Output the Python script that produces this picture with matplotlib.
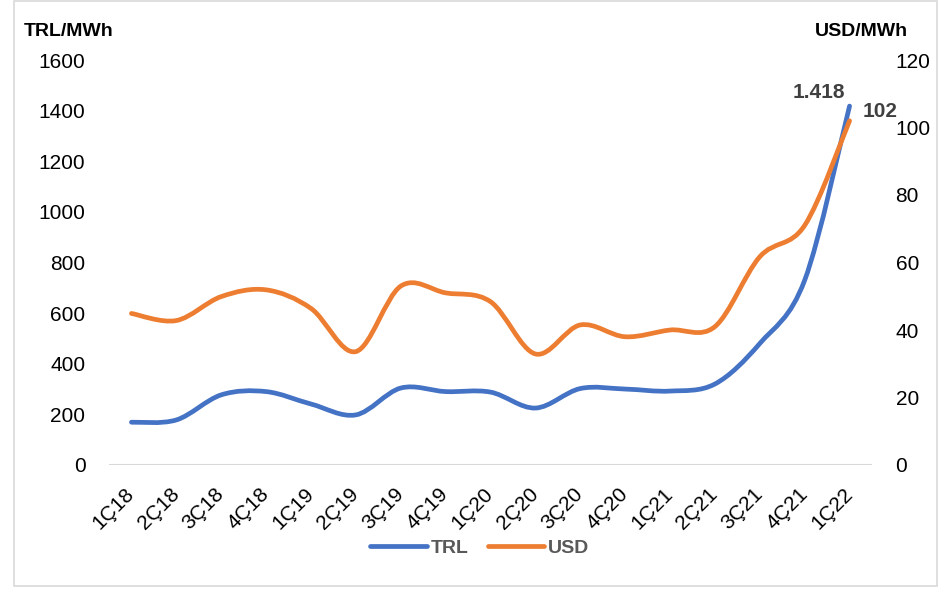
import matplotlib
matplotlib.use("Agg")
import matplotlib.pyplot as plt
from matplotlib.path import Path
from matplotlib.patches import PathPatch, Rectangle
from matplotlib.lines import Line2D

quarters = ["1Ç18", "2Ç18", "3Ç18", "4Ç18", "1Ç19", "2Ç19", "3Ç19", "4Ç19",
            "1Ç20", "2Ç20", "3Ç20", "4Ç20", "1Ç21", "2Ç21", "3Ç21", "4Ç21", "1Ç22"]
trl = [169, 178, 277, 290, 241, 198, 304, 290, 288, 225, 302, 300, 292, 320, 480, 730, 1418]
usd = [44.9, 42.8, 49.9, 51.9, 46.4, 33.6, 53.0, 51.0, 48.4, 32.9, 41.5, 38.0, 40.0, 41.0, 61.7, 71.0, 102]

left_ticks = [0, 200, 400, 600, 800, 1000, 1200, 1400, 1600]
right_ticks = [0, 20, 40, 60, 80, 100, 120]

BLUE = "#4472C4"
ORANGE = "#ED7D31"

plt.rcParams["font.family"] = ["Liberation Sans", "DejaVu Sans"]


def smooth_path(ys):
    # excel-like smoothed line: cubic bezier with catmull-rom control points
    xs = list(range(len(ys)))
    verts = [(xs[0], ys[0])]
    codes = [Path.MOVETO]
    n = len(ys)
    for i in range(n - 1):
        x0, y0 = xs[max(i - 1, 0)], ys[max(i - 1, 0)]
        x1, y1 = xs[i], ys[i]
        x2, y2 = xs[i + 1], ys[i + 1]
        x3, y3 = xs[min(i + 2, n - 1)], ys[min(i + 2, n - 1)]
        c1 = (x1 + (x2 - x0) / 6, y1 + (y2 - y0) / 6)
        c2 = (x2 - (x3 - x1) / 6, y2 - (y3 - y1) / 6)
        verts += [c1, c2, (x2, y2)]
        codes += [Path.CURVE4] * 3
    return Path(verts, codes)


W, H = 951, 589
fig = plt.figure(figsize=(W / 100, H / 100), dpi=100)
fig.patches.append(Rectangle((14 / W, 1 - 586 / H), 923 / W, 585 / H,
                             transform=fig.transFigure, fill=False,
                             edgecolor="#D9D9D9", linewidth=1.2))

ax = fig.add_axes([109 / W, 1 - 465 / H, (872 - 109) / W, (465 - 60) / H])
ax2 = ax.twinx()

ax.add_patch(PathPatch(smooth_path(trl), fill=False, edgecolor=BLUE,
                       linewidth=3.4, capstyle="round", zorder=3))
ax2.add_patch(PathPatch(smooth_path(usd), fill=False, edgecolor=ORANGE,
                        linewidth=3.4, capstyle="round", zorder=3))

ax.set_xlim(-0.5, len(quarters) - 0.5)
ax.set_ylim(0, 1600)
ax2.set_ylim(0, 120)
ax.set_yticks(left_ticks)
ax2.set_yticks(right_ticks)
ax.set_xticks(range(len(quarters)))
ax.set_xticklabels(quarters, rotation=45, ha="right", va="center",
                   rotation_mode="anchor", fontsize=15)
ax.tick_params(axis="x", length=0, pad=19)
ax.tick_params(axis="y", length=0, pad=17, labelsize=15)
ax2.tick_params(axis="y", length=0, pad=17, labelsize=15)

for a in (ax, ax2):
    for s in a.spines.values():
        s.set_visible(False)
ax.axhline(0, color="#D9D9D9", linewidth=1.5, zorder=1)

fig.text(24 / W, 1 - 32 / H, "TRL/MWh", fontsize=14, fontweight="bold",
         ha="left", va="center")
fig.text(908 / W, 1 - 32 / H, "USD/MWh", fontsize=14, fontweight="bold",
         ha="right", va="center")

ax.annotate("1.418", (16, trl[-1]), xytext=(-22, 10), textcoords="offset points",
            ha="center", va="center", fontsize=15, fontweight="bold", color="#404040")
ax2.annotate("102", (16, usd[-1]), xytext=(22, 7), textcoords="offset points",
             ha="center", va="center", fontsize=15, fontweight="bold", color="#404040")

handles = [Line2D([], [], color=BLUE, linewidth=3.4, solid_capstyle="round"),
           Line2D([], [], color=ORANGE, linewidth=3.4, solid_capstyle="round")]
leg = fig.legend(handles, ["TRL", "USD"], loc="center", bbox_to_anchor=(480 / W, 1 - 548 / H),
                 ncol=2, frameon=False, handlelength=2.9, handletextpad=0.2,
                 columnspacing=1.0, prop={"size": 14, "weight": "bold"})
for t in leg.get_texts():
    t.set_color("#595959")

fig.savefig("out.png", dpi=100)
